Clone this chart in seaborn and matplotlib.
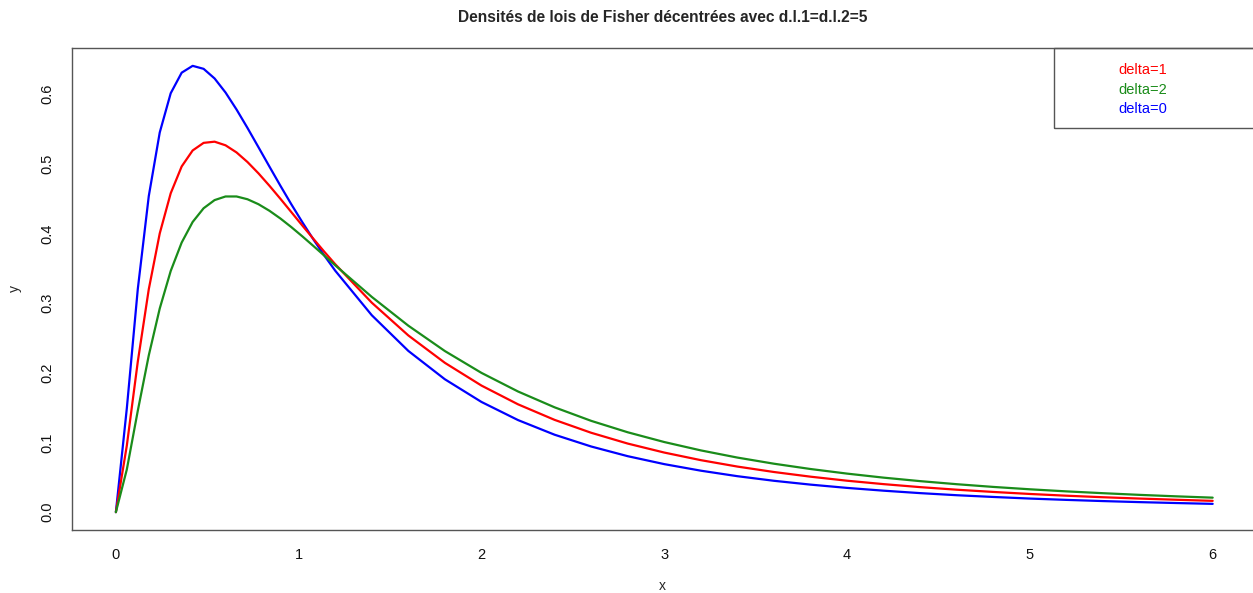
import matplotlib
matplotlib.use("Agg")
import matplotlib.pyplot as plt
from matplotlib.patches import Rectangle
import numpy as np
import pandas as pd
import seaborn as sns

# Evaluation points (finer near the mode, coarser along the tail)
x_vals = [0.0, 0.06, 0.12, 0.18, 0.24, 0.30, 0.36, 0.42, 0.48, 0.54, 0.60,
          0.66, 0.72, 0.78, 0.84, 0.90, 0.96, 1.02, 1.08, 1.14, 1.20,
          1.4, 1.6, 1.8, 2.0, 2.2, 2.4, 2.6, 2.8, 3.0, 3.2, 3.4, 3.6, 3.8,
          4.0, 4.2, 4.4, 4.6, 4.8, 5.0, 5.2, 5.4, 5.6, 5.8, 6.0]

# Non-central F(5, 5) densities for three non-centrality values
dens_delta0 = [0.0, 0.1492, 0.3203, 0.4534, 0.5447, 0.6010, 0.6305, 0.6403,
               0.6360, 0.6222, 0.6020, 0.5777, 0.5512, 0.5236, 0.4958, 0.4683,
               0.4416, 0.4160, 0.3915, 0.3683, 0.3464, 0.2825, 0.2313, 0.1906,
               0.1581, 0.1321, 0.1111, 0.0942, 0.0803, 0.0689, 0.0595, 0.0516,
               0.0450, 0.0395, 0.0348, 0.0308, 0.0273, 0.0243, 0.0218, 0.0195,
               0.0176, 0.0159, 0.0144, 0.0131, 0.0119]
dens_delta1 = [0.0, 0.0957, 0.2161, 0.3198, 0.3999, 0.4575, 0.4960, 0.5189,
               0.5298, 0.5315, 0.5263, 0.5161, 0.5023, 0.4861, 0.4683, 0.4496,
               0.4304, 0.4112, 0.3923, 0.3737, 0.3557, 0.3005, 0.2535, 0.2142,
               0.1816, 0.1547, 0.1324, 0.1139, 0.0984, 0.0855, 0.0746, 0.0654,
               0.0576, 0.0509, 0.0451, 0.0402, 0.0359, 0.0322, 0.0290, 0.0261,
               0.0236, 0.0214, 0.0195, 0.0178, 0.0162]
dens_delta2 = [0.0, 0.0614, 0.1456, 0.2249, 0.2922, 0.3460, 0.3868, 0.4163,
               0.4360, 0.4477, 0.4529, 0.4529, 0.4489, 0.4418, 0.4324, 0.4213,
               0.4089, 0.3957, 0.3820, 0.3681, 0.3541, 0.3088, 0.2675, 0.2311,
               0.1998, 0.1731, 0.1504, 0.1310, 0.1146, 0.1006, 0.0886, 0.0783,
               0.0695, 0.0619, 0.0553, 0.0495, 0.0445, 0.0401, 0.0362, 0.0328,
               0.0298, 0.0272, 0.0248, 0.0227, 0.0208]

legend_labels = ["delta=1", "delta=2", "delta=0"]
x_ticks = [0, 1, 2, 3, 4, 5, 6]
y_ticks = [0.0, 0.1, 0.2, 0.3, 0.4, 0.5, 0.6]
y_tick_labels = ["0.0", "0.1", "0.2", "0.3", "0.4", "0.5", "0.6"]
title = "Densités de lois de Fisher décentrées avec d.l.1=d.l.2=5"

colors = {"delta=0": "#0000FF", "delta=1": "#FF0000", "delta=2": "#1A8C1A"}

df = pd.concat([
    pd.DataFrame({"x": x_vals, "y": dens_delta0, "serie": "delta=0"}),
    pd.DataFrame({"x": x_vals, "y": dens_delta1, "serie": "delta=1"}),
    pd.DataFrame({"x": x_vals, "y": dens_delta2, "serie": "delta=2"}),
], ignore_index=True)

sns.set_style("white")
plt.rcParams["font.family"] = ["Liberation Sans", "DejaVu Sans"]

W, H = 1253, 593
fig = plt.figure(figsize=(W / 100, H / 100), dpi=100)

def fx(px):
    return px / W

def fy(py):
    return (H - py) / H

# plot region in pixels: left 72, top 48, bottom 530, extends past right edge
left_px, top_px, bot_px = 72, 48, 530
xmin, xmax = -0.24, 6.24
px_per_x = 182.8
width_px = (xmax - xmin) * px_per_x
ax = fig.add_axes([fx(left_px), fy(bot_px), width_px / W, (bot_px - top_px) / H])

sns.lineplot(data=df, x="x", y="y", hue="serie", palette=colors,
             hue_order=["delta=0", "delta=1", "delta=2"],
             linewidth=1.6, legend=False, ax=ax, estimator=None, sort=False)

ax.set_xlim(xmin, xmax)
ax.set_ylim(-0.0256, 0.6659)
ax.set_xticks(x_ticks)
ax.set_xticklabels([str(t) for t in x_ticks])
ax.set_yticks(y_ticks)
ax.set_yticklabels(y_tick_labels, rotation=90, va="center")
ax.set_xlabel("")
ax.set_ylabel("")

for sp in ax.spines.values():
    sp.set_visible(True)
    sp.set_color("#555555")
    sp.set_linewidth(1.0)

ax.tick_params(axis="both", direction="out", length=6, width=0.9,
               color="#555555", labelsize=10.5, labelcolor="#111111")
ax.tick_params(axis="x", pad=7)
ax.tick_params(axis="y", pad=7)

# axis titles and main title
fig.text(fx(662), fy(586), "x", fontsize=10, ha="center", va="center")
fig.text(fx(15), fy(289), "y", fontsize=10, ha="center", va="center", rotation=90)
fig.text(fx(663), fy(18), title, fontsize=11.2, fontweight="bold",
         ha="center", va="center")

# legend box in the top-right corner with coloured text entries
leg_left, leg_top, leg_bot = 1054, 48, 128
fig.patches.append(Rectangle((fx(leg_left), fy(leg_bot)),
                             (W + 20 - leg_left) / W, (leg_bot - leg_top) / H,
                             transform=fig.transFigure, fill=False,
                             edgecolor="#555555", linewidth=1.0, clip_on=False))
for lab, ypx in zip(legend_labels, [70, 89.5, 109]):
    fig.text(fx(1118), fy(ypx), lab, color=colors[lab], fontsize=10.5,
             ha="left", va="center")

fig.savefig("out.png", dpi=100)
